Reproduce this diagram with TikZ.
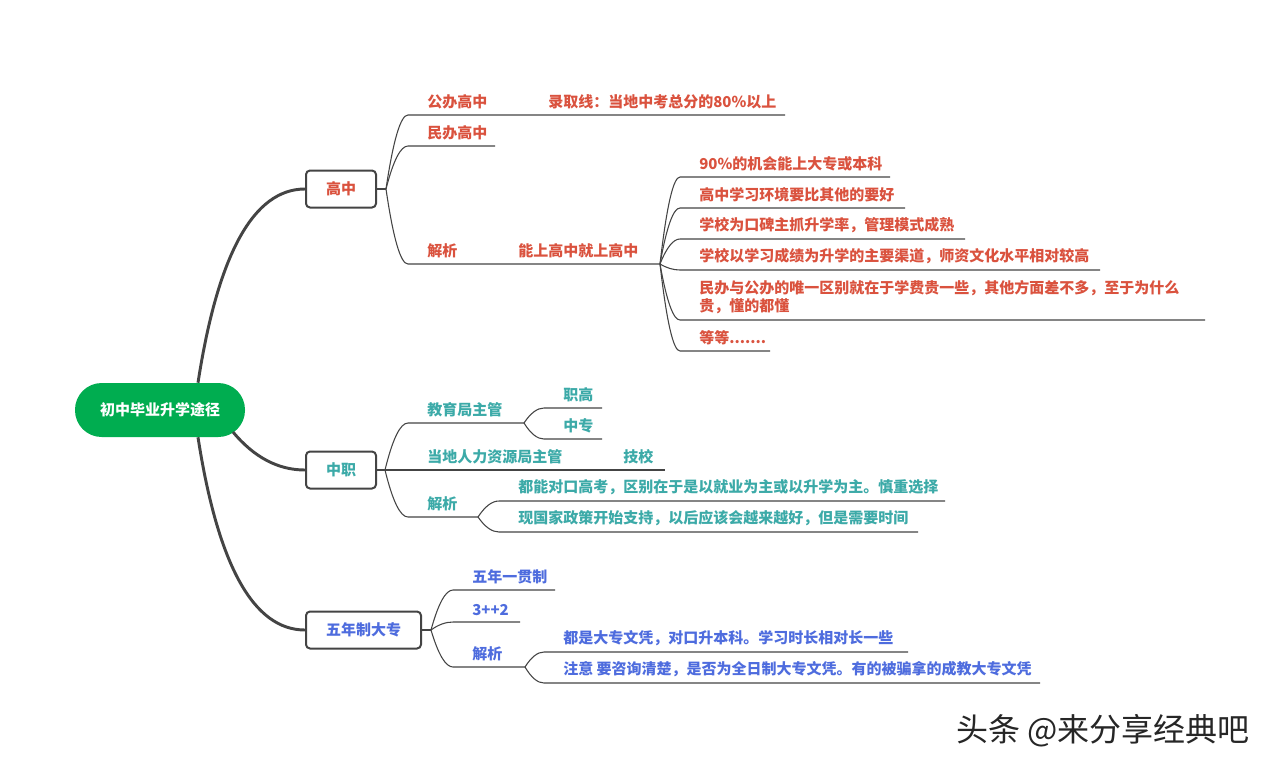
\documentclass[tikz,border=0pt]{standalone}
\usepackage{fontspec}
\setmainfont{Noto Sans CJK SC}
\usepackage{xcolor}
\usepackage{tikz}
\usetikzlibrary{calc}

\definecolor{linegray}{RGB}{68,68,68}
\definecolor{rootgreen}{RGB}{0,173,80}
\definecolor{gzred}{RGB}{218,82,62}
\definecolor{zzteal}{RGB}{60,170,168}
\definecolor{dzblue}{RGB}{78,108,222}

\tikzset{
  trunk/.style={draw=linegray, line width=2.2pt},
  twig/.style={draw=linegray, line width=0.8pt},
  root/.style={fill=rootgreen, text=white, rounded corners=20pt, minimum width=127.5pt, minimum height=40.5pt, font=\fontsize{11.25pt}{13.5pt}\selectfont\bfseries},
  box/.style={draw=linegray, line width=1.5pt, rounded corners=3pt, fill=white, anchor=west, inner xsep=15pt, minimum height=27.75pt, font=\fontsize{11.25pt}{13.5pt}\selectfont\bfseries},
  topic/.style={anchor=south west, inner xsep=0pt, inner ysep=4.5pt, text=#1, font=\fontsize{11.25pt}{13.5pt}\selectfont\bfseries},
  wmark/.style={text=black!85, font=\fontsize{24pt}{27pt}\selectfont},
  % quadratic bend: control point at (x1 + #1 (x2-x1), y2)
  curvy/.style={to path={let \p1=(\tikztostart), \p2=(\tikztotarget) in
    .. controls ({\x1+0.6667*#1*(\x2-\x1)},{\y1+0.6667*(\y2-\y1)}) and ({\x2-0.6667*(1-#1)*(\x2-\x1)},\y2) .. (\tikztotarget)}},
  curvy/.default=0.5
}

\begin{document}
\begin{tikzpicture}[x=0.75pt, y=-0.75pt]
	\path[use as bounding box, fill=white] (0,0) rectangle (1275,769);
	\node[root] (root) at (160,410) {初中毕业升学途径};
	\node[box, text=gzred] (gz) at (305,189) {高中};
	\node[box, text=zzteal] (zz) at (305,470) {中职};
	\node[box, text=dzblue] (dz) at (305,630) {五年制大专};
	\draw[trunk] ($(root.north)+(38,0)$) to[curvy=0.28] (gz.west);
	\draw[trunk] ($(root.center)+(73,22)$) to[curvy=0.44] (zz.west);
	\draw[trunk] ($(root.south)+(38,0)$) to[curvy=0.28] (dz.west);
	% GAOZHONG
	\coordinate (gzf) at (386,189);
	\node[topic=gzred] (gb) at (427,115) {公办高中};
	\node[topic=gzred] (gbx) at (548,115) {录取线：当地中考总分的80\%以上};
	\node[topic=gzred] (mb) at (427,146) {民办高中};
	\node[topic=gzred] (gjx) at (427,264) {解析};
	\node[topic=gzred] (gjy) at (518,264) {能上高中就上高中};
	\coordinate (gjf) at (660,264);
	\draw[twig] (gz.east) -- (gzf);
	\draw[twig] (gzf) to[curvy] ($(gb.south west)+(-19,0)$) -- ($(gbx.south west)+(237,0)$);
	\draw[twig] (gzf) to[curvy] ($(mb.south west)+(-19,0)$) -- ($(mb.south west)+(68,0)$);
	\draw[twig] (gzf) to[curvy] ($(gjx.south west)+(-19,0)$) -- (gjf);
	\node[topic=gzred] (g1) at (699,177) {90\%的机会能上大专或本科};
	\node[topic=gzred] (g2) at (699,208) {高中学习环境要比其他的要好};
	\node[topic=gzred] (g3) at (699,239) {学校为口碑主抓升学率，管理模式成熟};
	\node[topic=gzred] (g4) at (699,270) {学校以学习成绩为升学的主要渠道，师资文化水平相对较高};
	\node[topic=gzred, align=left] (g5) at (699,320) {民办与公办的唯一区别就在于学费贵一些，其他方面差不多，至于为什么\\贵，懂的都懂};
	\node[topic=gzred] (g6) at (699,351) {等等.......};
	\draw[twig] (gjf) to[curvy] ($(g1.south west)+(-19,0)$) -- ($(g1.south west)+(191,0)$);
	\draw[twig] (gjf) to[curvy] ($(g2.south west)+(-19,0)$) -- ($(g2.south west)+(206,0)$);
	\draw[twig] (gjf) to[curvy] ($(g3.south west)+(-19,0)$) -- ($(g3.south west)+(266,0)$);
	\draw[twig] (gjf) to[curvy] ($(g4.south west)+(-19,0)$) -- ($(g4.south west)+(401,0)$);
	\draw[twig] (gjf) to[curvy] ($(g5.south west)+(-19,0)$) -- ($(g5.south west)+(506,0)$);
	\draw[twig] (gjf) to[curvy] ($(g6.south west)+(-19,0)$) -- ($(g6.south west)+(71,0)$);
	% ZHONGZHI
	\coordinate (zzf) at (385,470);
	\node[topic=zzteal] (jy) at (427,423) {教育局主管};
	\coordinate (jyf) at (524,423);
	\node[topic=zzteal] (zg) at (563,408) {职高};
	\node[topic=zzteal] (zs) at (563,439) {中专};
	\node[topic=zzteal] (rl) at (427,470) {当地人力资源局主管};
	\node[topic=zzteal] (jx) at (623,470) {技校};
	\node[topic=zzteal] (zjx) at (427,517) {解析};
	\coordinate (zjf) at (478,517);
	\node[topic=zzteal] (z1) at (518,501) {都能对口高考，区别在于是以就业为主或以升学为主。慎重选择};
	\node[topic=zzteal] (z2) at (518,532) {现国家政策开始支持，以后应该会越来越好，但是需要时间};
	\draw[twig] (zz.east) -- (zzf);
	\draw[twig] (zzf) to[curvy] ($(jy.south west)+(-19,0)$) -- (jyf);
	\draw[twig] (jyf) to[curvy] ($(zg.south west)+(-19,0)$) -- ($(zg.south west)+(39,0)$);
	\draw[twig] (jyf) to[curvy] ($(zs.south west)+(-19,0)$) -- ($(zs.south west)+(39,0)$);
	\draw[twig] (zzf) -- ($(jx.south west)+(42,0)$);
	\draw[twig] (zzf) to[curvy] ($(zjx.south west)+(-19,0)$) -- (zjf);
	\draw[twig] (zjf) to[curvy] ($(z1.south west)+(-19,0)$) -- ($(z1.south west)+(427,0)$);
	\draw[twig] (zjf) to[curvy] ($(z2.south west)+(-19,0)$) -- ($(z2.south west)+(400,0)$);
	% WUNIANZHI DAZHUAN
	\coordinate (dzf) at (431,630);
	\node[topic=dzblue] (wn) at (472,590) {五年一贯制};
	\node[topic=dzblue] (sj) at (472,622) {3++2};
	\node[topic=dzblue] (djx) at (472,667) {解析};
	\coordinate (djf) at (525,667);
	\node[topic=dzblue] (d1) at (563,652) {都是大专文凭，对口升本科。学习时长相对长一些};
	\node[topic=dzblue] (d2) at (563,683) {注意 要咨询清楚，是否为全日制大专文凭。有的被骗拿的成教大专文凭};
	\draw[twig] (dz.east) -- (dzf);
	\draw[twig] (dzf) to[curvy] ($(wn.south west)+(-19,0)$) -- ($(wn.south west)+(83,0)$);
	\draw[twig] (dzf) to[curvy] ($(sj.south west)+(-19,0)$) -- ($(sj.south west)+(48,0)$);
	\draw[twig] (dzf) to[curvy] ($(djx.south west)+(-19,0)$) -- (djf);
	\draw[twig] (djf) to[curvy] ($(d1.south west)+(-19,0)$) -- ($(d1.south west)+(345,0)$);
	\draw[twig] (djf) to[curvy] ($(d2.south west)+(-19,0)$) -- ($(d2.south west)+(477,0)$);
	\node[wmark] (wm) at (1103,731) {头条 @来分享经典吧};
\end{tikzpicture}
\end{document}
